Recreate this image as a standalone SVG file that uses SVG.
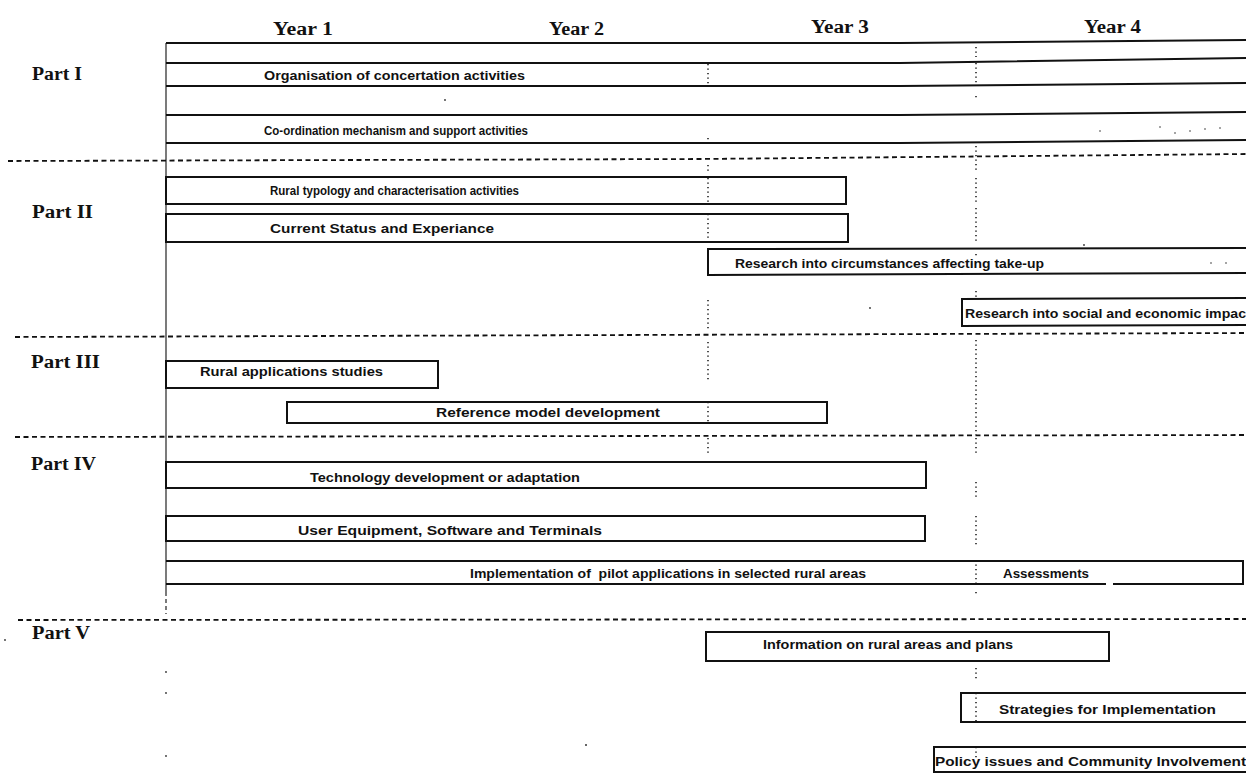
<svg xmlns="http://www.w3.org/2000/svg" width="1246" height="782" viewBox="0 0 1246 782">
<style>
.bar{fill:none;stroke:#111;stroke-width:2}
.vline{stroke:#222;stroke-width:1.2;fill:none}
.vdash{stroke:#222;stroke-width:1.2;fill:none;stroke-dasharray:4 3}
.sep{stroke:#111;stroke-width:1.8;stroke-dasharray:5 3.5;fill:none}
.dot{stroke:#222;stroke-width:1.6;stroke-dasharray:1.3 3.2;fill:none}
.hdr{font-family:"Liberation Serif","Times New Roman",serif;font-weight:bold;font-size:18px;fill:#111}
.t{font-family:"Liberation Sans",Arial,sans-serif;font-weight:bold;font-size:12.5px;fill:#111;white-space:pre}
.n{fill:#333}
</style>
<rect width="1246" height="782" fill="#fff"/>

<g id="headers">
  <text class="hdr" x="273" y="35" textLength="60" lengthAdjust="spacingAndGlyphs">Year 1</text>
  <text class="hdr" x="549" y="35" textLength="55" lengthAdjust="spacingAndGlyphs">Year 2</text>
  <text class="hdr" x="811" y="33" textLength="58" lengthAdjust="spacingAndGlyphs">Year 3</text>
  <text class="hdr" x="1084" y="33" textLength="57" lengthAdjust="spacingAndGlyphs">Year 4</text>
  <text class="hdr" x="32" y="80" textLength="50" lengthAdjust="spacingAndGlyphs">Part I</text>
  <text class="hdr" x="32" y="218" textLength="61" lengthAdjust="spacingAndGlyphs">Part II</text>
  <text class="hdr" x="31" y="368" textLength="69" lengthAdjust="spacingAndGlyphs">Part III</text>
  <text class="hdr" x="31" y="470" textLength="65" lengthAdjust="spacingAndGlyphs">Part IV</text>
  <text class="hdr" x="32" y="639" textLength="58" lengthAdjust="spacingAndGlyphs">Part V</text>
</g>

<g id="connectors">
  <line class="vline" x1="166" y1="43" x2="166" y2="592"/>
  <line class="vdash" x1="166" y1="592" x2="166" y2="614"/>
  <polyline class="bar" points="166,43 900,43 1246,40"/>
  <polyline class="sep" points="8,161 700,159 1246,154"/>
  <polyline class="sep" points="15,337 1246,333"/>
  <polyline class="sep" points="15,437 1246,435"/>
  <polyline class="sep" points="18,620 1246,619"/>
  <path class="dot" d="M708,64 V86 M708,138 V146 M708,165 V171 M708,178 V204 M708,214 V242 M708,300 V330 M708,342 V380 M708,402 V424 M708,438 V456"/>
  <path class="dot" d="M976,47 V57 M976,63 V86 M976,96 V100 M976,146 V170 M976,178 V202 M976,208 V242 M976,254 V258 M976,291 V300 M976,340 V435 M976,438 V456 M976,482 V500 M976,516 V546 M976,560 V584 M976,592 V596 M976,668 V680 M976,693 V722 M976,747 V760"/>
  <g class="n">
    <circle cx="445" cy="100" r="0.9"/>
    <circle cx="1100" cy="131" r="0.8"/>
    <circle cx="1160" cy="127" r="0.8"/>
    <circle cx="1175" cy="133" r="0.8"/>
    <circle cx="1190" cy="131" r="0.8"/>
    <circle cx="1205" cy="129" r="0.8"/>
    <circle cx="1220" cy="128" r="0.8"/>
    <circle cx="1084" cy="245" r="0.9"/>
    <circle cx="1211" cy="263" r="0.8"/>
    <circle cx="1226" cy="263" r="0.8"/>
    <circle cx="870" cy="308" r="0.9"/>
    <circle cx="5" cy="640" r="0.9"/>
    <circle cx="166" cy="672" r="0.9"/>
    <circle cx="166" cy="693" r="0.9"/>
    <circle cx="166" cy="756" r="0.9"/>
    <circle cx="586" cy="745" r="1"/>
  </g>
</g>

<g id="org">
  <polyline class="bar" points="166,63 900,63 1246,58"/>
  <polyline class="bar" points="166,86 900,86 1246,83"/>
  <text class="t" x="264" y="80" textLength="261" lengthAdjust="spacingAndGlyphs">Organisation of concertation activities</text>
</g>
<g id="coord">
  <polyline class="bar" points="166,115 900,115 1246,112"/>
  <polyline class="bar" points="166,143 900,143 1246,140"/>
  <text class="t" x="264" y="135" textLength="264" lengthAdjust="spacingAndGlyphs">Co-ordination mechanism and support activities</text>
</g>
<g id="typology">
  <rect class="bar" x="166" y="177" width="680" height="27"/>
  <text class="t" x="270" y="195" textLength="249" lengthAdjust="spacingAndGlyphs">Rural typology and characterisation activities</text>
</g>
<g id="status">
  <rect class="bar" x="166" y="214" width="682" height="28"/>
  <text class="t" x="270" y="233" textLength="224" lengthAdjust="spacingAndGlyphs">Current Status and Experiance</text>
</g>
<g id="takeup">
  <polyline class="bar" points="1250,248 708,249 708,275 1250,273"/>
  <text class="t" x="735" y="268" textLength="309" lengthAdjust="spacingAndGlyphs">Research into circumstances affecting take-up</text>
</g>
<g id="impact">
  <polyline class="bar" points="1250,298 962,299 962,326 1250,325"/>
  <text class="t" x="965" y="318" textLength="281" lengthAdjust="spacingAndGlyphs">Research into social and economic impac</text>
</g>
<g id="ras">
  <rect class="bar" x="166" y="361" width="272" height="27"/>
  <text class="t" x="200" y="376" textLength="183" lengthAdjust="spacingAndGlyphs">Rural applications studies</text>
</g>
<g id="refmodel">
  <rect class="bar" x="287" y="402" width="540" height="21"/>
  <text class="t" x="436" y="417" textLength="224" lengthAdjust="spacingAndGlyphs">Reference model development</text>
</g>
<g id="tech">
  <rect class="bar" x="166" y="462" width="760" height="26"/>
  <text class="t" x="310" y="482" textLength="270" lengthAdjust="spacingAndGlyphs">Technology development or adaptation</text>
</g>
<g id="ueq">
  <rect class="bar" x="166" y="516" width="759" height="25"/>
  <text class="t" x="298" y="535" textLength="304" lengthAdjust="spacingAndGlyphs">User Equipment, Software and Terminals</text>
</g>
<g id="impl">
  <path class="bar" d="M166,561 H1243 V584 H1113 M1106,584 H166"/>
  <text class="t" x="470" y="578" textLength="396" lengthAdjust="spacingAndGlyphs">Implementation of  pilot applications in selected rural areas</text>
  <text class="t" x="1003" y="578" textLength="86" lengthAdjust="spacingAndGlyphs">Assessments</text>
</g>
<g id="info">
  <rect class="bar" x="706" y="632" width="403" height="29"/>
  <text class="t" x="763" y="649" textLength="250" lengthAdjust="spacingAndGlyphs">Information on rural areas and plans</text>
</g>
<g id="strat">
  <polyline class="bar" points="1250,693 961,693 961,722 1250,722"/>
  <text class="t" x="999" y="714" textLength="217" lengthAdjust="spacingAndGlyphs">Strategies for Implementation</text>
</g>
<g id="policy">
  <polyline class="bar" points="1250,747 934,747 934,772 1250,772"/>
  <text class="t" x="935" y="766" textLength="311" lengthAdjust="spacingAndGlyphs">Policy issues and Community Involvement</text>
</g>
</svg>
